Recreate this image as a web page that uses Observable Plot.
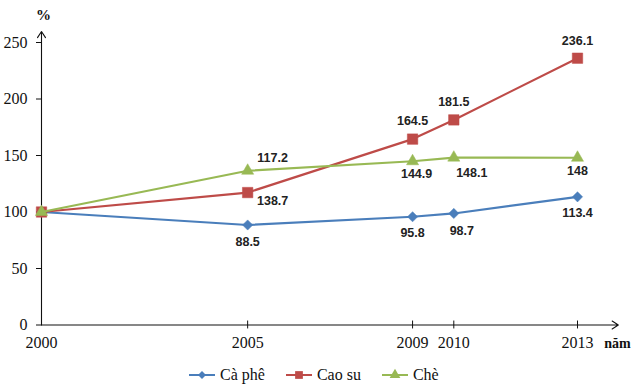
<!DOCTYPE html>
<html>
<head>
<meta charset="utf-8">
<script src="https://cdn.jsdelivr.net/npm/d3@7"></script>
<script src="https://cdn.jsdelivr.net/npm/@observablehq/plot@0.6"></script>
<style>
  html, body { margin: 0; padding: 0; background: #fff; }
  #wrap { position: relative; width: 637px; height: 385px; overflow: hidden; }
  #legend { position: absolute; left: 188px; top: 364px; height: 22px; display: flex; align-items: center;
            font-family: "Liberation Serif", "DejaVu Serif", serif; font-size: 16px; color: #111; }
  .item { display: flex; align-items: center; margin-right: 20px; }
  .item svg { margin-right: 4px; }
</style>
</head>
<body>
<div id="wrap"><div id="chart"></div><div id="legend"></div></div>
<script>
// ---- data ----
const years = [2000, 2005, 2009, 2010, 2013];
const seriesNames = ["Cà phê", "Cao su", "Chè"];
const caPhe = [100, 88.5, 95.8, 98.7, 113.4];
const caoSu = [100, 117.2, 164.5, 181.5, 236.1];
const che = [100, 136.5, 144.9, 148.1, 148];
const caPheLabels = ["", "88.5", "95.8", "98.7", "113.4"];
const caoSuLabels = ["", "138.7", "164.5", "181.5", "236.1"];
const cheLabels = ["", "117.2", "144.9", "148.1", "148"];
const yTicks = [0, 50, 100, 150, 200, 250];
const yUnit = "%";
const xUnit = "năm";

// ---- styling ----
const colors = { "Cà phê": "#4A7EBB", "Cao su": "#BE4B48", "Chè": "#98B954" };
const symbols = { "Cà phê": "diamond2", "Cao su": "square", "Chè": "triangle" };
const symR = { "Cà phê": 4.6, "Cao su": 5.9, "Chè": 4.5 };
// label offsets (px) per series & point
const labelOffsets = {
  "Cà phê": [null, [0, 17], [0, 16], [8, 18], [0, 16]],
  "Cao su": [null, [25, 8], [0, -18], [0, -18], [0, -17]],
  "Chè":    [null, [25, -13], [4, 13], [18, 15], [0, 13]]
};

const valuesBySeries = { "Cà phê": caPhe, "Cao su": caoSu, "Chè": che };
const labelsBySeries = { "Cà phê": caPheLabels, "Cao su": caoSuLabels, "Chè": cheLabels };
const rows = seriesNames.flatMap(s => years.map((yr, i) => ({
  series: s, year: yr, value: valuesBySeries[s][i], label: labelsBySeries[s][i], i
})));

const serif = "'Liberation Serif', 'DejaVu Serif', serif";
const sans = "'Liberation Sans', Arial, sans-serif";

const marks = [];
// axes arrows
marks.push(Plot.arrow([0], { x1: () => 2000, x2: () => 2000, y1: () => 0, y2: () => 259.8, stroke: "#111", strokeWidth: 1.1, headLength: 10, headAngle: 66 }));
marks.push(Plot.arrow([0], { x1: () => 2000, x2: () => 2013.99, y1: () => 0, y2: () => 0, stroke: "#111", strokeWidth: 1.1, headLength: 10, headAngle: 66 }));
// x tick marks crossing the axis
marks.push(Plot.ruleX(years.slice(1), { x: d => d, y1: () => -3.5, y2: () => 3.5, stroke: "#111", strokeWidth: 1 }));
marks.push(Plot.axisY({ ticks: yTicks, tickSize: 5, tickPadding: 9, fontSize: 16, fontFamily: serif, fill: "#111", label: null, stroke: "#111" }));
marks.push(Plot.axisX({ ticks: years, tickSize: 0, tickPadding: 12, fontSize: 16, fontFamily: serif, fill: "#111", label: null, tickFormat: d => String(d) }));

for (const s of seriesNames) {
  const d = rows.filter(r => r.series === s);
  marks.push(Plot.line(d, { x: "year", y: "value", stroke: colors[s], strokeWidth: 2.2 }));
  marks.push(Plot.dot(d, { x: "year", y: "value", symbol: symbols[s], r: symR[s], fill: colors[s], stroke: colors[s], strokeWidth: 0.5 }));
}
for (const r of rows) {
  if (!r.label) continue;
  const [dx, dy] = labelOffsets[r.series][r.i];
  marks.push(Plot.text([r], { x: "year", y: "value", text: "label", dx, dy, fontSize: 12.5, fontWeight: "bold", fontFamily: sans, fill: "#222" }));
}
// unit labels
marks.push(Plot.text([yUnit], { x: () => 2000, y: () => 250, text: d => d, dy: -27, dx: 2, fontSize: 15, fontWeight: "bold", fontFamily: serif, fill: "#111" }));
marks.push(Plot.text([xUnit], { x: () => 2013, y: () => 0, text: d => d, dx: 40, dy: 19, textAnchor: "middle", fontSize: 14, fontWeight: "bold", fontFamily: serif, fill: "#111" }));

const plot = Plot.plot({
  width: 637,
  height: 360,
  marginLeft: 41,
  marginRight: 60,
  marginTop: 42,
  marginBottom: 35.5,
  x: { type: "linear", domain: [2000, 2013], axis: null },
  y: { type: "linear", domain: [0, 250], axis: null },
  style: { background: "#fff", overflow: "visible", fontFamily: serif },
  marks
});
document.getElementById("chart").appendChild(plot);

// legend
const legend = document.getElementById("legend");
const legendSym = { "Cà phê": d3.symbol(d3.symbolDiamond2, 40), "Cao su": d3.symbol(d3.symbolSquare, 60), "Chè": d3.symbol(d3.symbolTriangle, 50) };
for (const s of seriesNames) {
  const item = document.createElement("div");
  item.className = "item";
  const svg = d3.create("svg").attr("width", 28).attr("height", 14);
  svg.append("line").attr("x1", 1).attr("x2", 27).attr("y1", 7).attr("y2", 7).attr("stroke", colors[s]).attr("stroke-width", 2);
  svg.append("path").attr("d", legendSym[s]()).attr("transform", "translate(14,7)").attr("fill", colors[s]);
  item.appendChild(svg.node());
  const t = document.createElement("span");
  t.textContent = s;
  item.appendChild(t);
  legend.appendChild(item);
}
</script>
</body>
</html>
